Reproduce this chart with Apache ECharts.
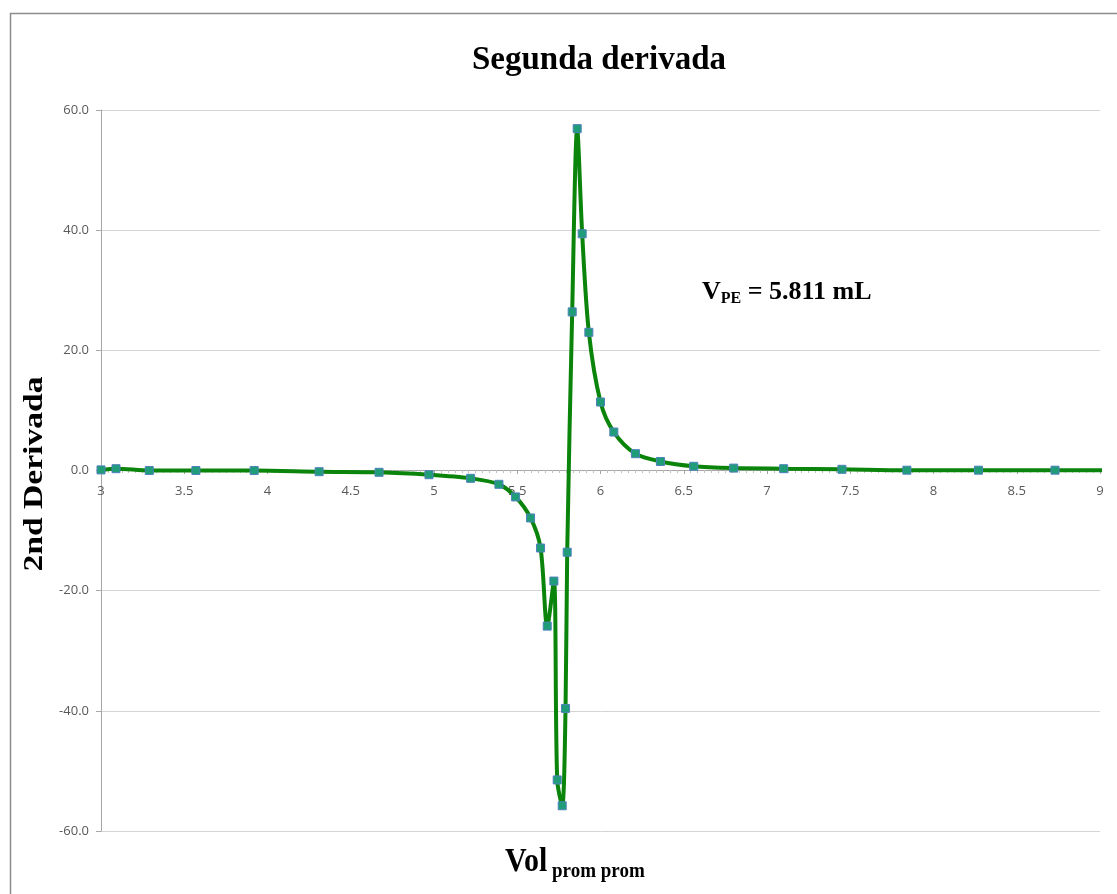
<!DOCTYPE html>
<html>
<head>
<meta charset="utf-8">
<script src="https://cdn.jsdelivr.net/npm/echarts@6/dist/echarts.min.js"></script>
<style>
  html, body { margin: 0; padding: 0; background: #fff; }
  #chart { width: 1117px; height: 894px; }
</style>
</head>
<body>
<div id="chart"></div>
<script>
// volumen promedio (mL)
var volProm = [3.0, 3.09, 3.29, 3.57, 3.92, 4.31, 4.67, 4.97, 5.22, 5.39, 5.49, 5.58, 5.64, 5.68, 5.72,
  5.74, 5.77, 5.79, 5.80, 5.83, 5.86, 5.89, 5.93, 6.00, 6.08, 6.21, 6.36, 6.56, 6.80, 7.10, 7.45,
  7.84, 8.27, 8.73, 9.3];
// segunda derivada
var segDeriv = [0.1, 0.3, 0.0, 0.0, 0.0, -0.2, -0.3, -0.7, -1.3, -2.3, -4.4, -7.9, -12.9, -25.9, -18.4,
  -51.5, -55.8, -39.6, -13.6, 26.4, 56.9, 39.4, 23.0, 11.4, 6.4, 2.8, 1.5, 0.7, 0.4, 0.3, 0.2,
  0.05, 0.05, 0.05, 0.0];
var xTicks = [3, 9, 0.5];    // min, max, paso
var yTicks = [-60, 60, 20];  // min, max, paso

var myChart = echarts.init(document.getElementById("chart"));
var serif = "'Liberation Serif', 'DejaVu Serif', serif";

var puntos = volProm.map(function (v, i) {
  return [v, segDeriv[i]];
});

var option = {
  backgroundColor: "#ffffff",
  animation: false,
  grid: {
    left: 101,
    right: 17,
    top: 110,
    bottom: 63,
  },
  xAxis: {
    type: "value",
    min: xTicks[0],
    max: xTicks[1],
    interval: xTicks[2],
    offset: -361, // el eje cruza en y = 0
    axisLine: {
      onZero: false,
      lineStyle: { color: "#a6a6a6", width: 1 },
    },
    axisTick: {
      show: true,
      length: 4,
      lineStyle: { color: "#a6a6a6" },
    },
    minorTick: {
      show: true,
      splitNumber: 12,
      length: 3,
      lineStyle: { color: "#c0c0c0" },
    },
    axisLabel: {
      color: "#595959",
      fontSize: 13,
      fontFamily: "'Open Sans', sans-serif",
      margin: 15,
    },
    splitLine: { show: false },
  },
  yAxis: {
    type: "value",
    min: yTicks[0],
    max: yTicks[1],
    interval: yTicks[2],
    axisLine: {
      show: true,
      onZero: false,
      lineStyle: { color: "#a6a6a6" },
    },
    axisTick: {
      show: true,
      length: 5,
      lineStyle: { color: "#a6a6a6" },
    },
    axisLabel: {
      color: "#595959",
      fontSize: 13,
      fontFamily: "'Open Sans', sans-serif",
      margin: 12,
      formatter: function (v) {
        return v.toFixed(1);
      },
    },
    splitLine: {
      show: true,
      lineStyle: { color: "#d4d4d4", width: 1 },
    },
  },
  graphic: {
    elements: [
      // borde del grafico
      {
        type: "rect",
        left: 8,
        top: 11,
        shape: { width: 1130, height: 900 },
        style: { fill: null, stroke: "#8c8c8c", lineWidth: 1.5 },
        silent: true,
        z: -1,
      },
      // titulo
      {
        type: "text",
        x: 599,
        y: 60,
        style: {
          text: "Segunda derivada",
          font: "bold 33px " + serif,
          fill: "#000",
          align: "center",
          verticalAlign: "middle",
        },
      },
      // titulo eje y
      {
        type: "text",
        x: 35,
        y: 474,
        rotation: Math.PI / 2,
        scaleX: 1.2,
        style: {
          text: "2nd Derivada",
          font: "bold 28px " + serif,
          fill: "#000",
          align: "center",
          verticalAlign: "middle",
        },
      },
      // titulo eje x
      {
        type: "text",
        left: 505,
        top: 846,
        scaleY: 1.1,
        style: {
          text: "{a|Vol}{b| prom prom}",
          rich: {
            a: { font: "bold 30px " + serif, fill: "#000" },
            b: { font: "bold 19px " + serif, fill: "#000", padding: [16, 0, 0, 0] },
          },
        },
      },
      // punto de equivalencia
      {
        type: "text",
        left: 702,
        top: 279,
        style: {
          text: "{a|V}{b|PE}{a| = 5.811 mL}",
          rich: {
            a: { font: "bold 26px " + serif, fill: "#000" },
            b: { font: "bold 16px " + serif, fill: "#000", padding: [13, 0, 0, 0] },
          },
        },
      },
    ],
  },
  series: [
    {
      type: "line",
      data: puntos,
      smooth: 0.3,
      clip: true,
      symbol: "rect",
      symbolSize: 8,
      lineStyle: { color: "#0a840a", width: 4 },
      itemStyle: {
        color: "#1f9c78",
        borderColor: "#4f81bd",
        borderWidth: 1,
      },
      z: 5,
    },
  ],
};
myChart.setOption(option);
window.onresize = myChart.resize;
</script>
</body>
</html>
